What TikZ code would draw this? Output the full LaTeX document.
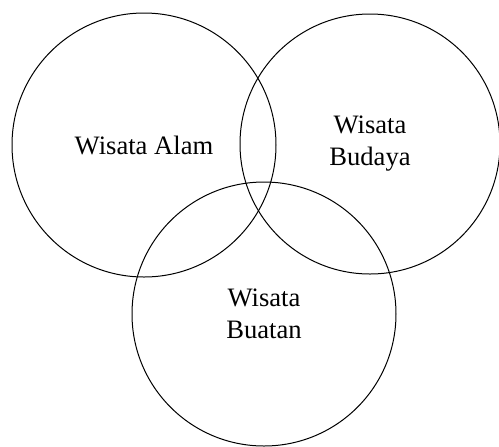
\documentclass[tikz,border=0pt]{standalone}
\usepackage{fontspec}
\setmainfont{Liberation Serif}

\begin{document}
\begin{tikzpicture}[
  x=0.5pt,y=-0.5pt,
  set/.style={draw,circle,line width=.5pt,inner sep=0pt,align=center,
    font=\fontsize{13.3}{16}\selectfont}
]
  \useasboundingbox (0,0) rectangle (499,446);
  \node[set,minimum size=132pt] (alam) at (144,145) {Wisata Alam};
  \node[set,minimum size=130pt] (budaya) at (370,144) {Wisata\\Budaya};
  \node[set,minimum size=132pt] (buatan) at (264,314) {Wisata\\Buatan};
\end{tikzpicture}
\end{document}
